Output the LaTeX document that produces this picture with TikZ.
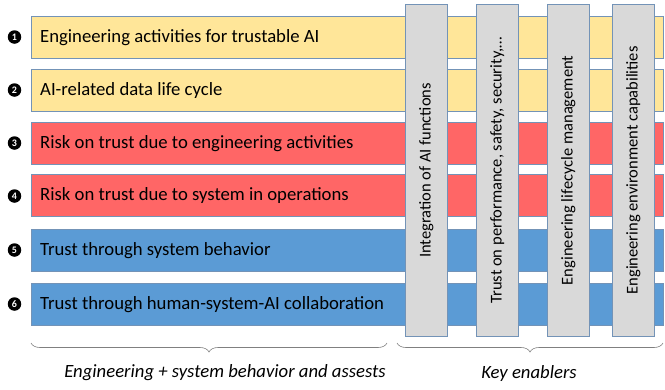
\documentclass[tikz,border=0pt]{standalone}
\usepackage{fontspec}
\setmainfont{Carlito}
\usetikzlibrary{decorations.pathreplacing}
\definecolor{barY}{HTML}{FFE699}
\definecolor{barR}{HTML}{FF6666}
\definecolor{barB}{HTML}{5B9BD5}
\definecolor{colG}{HTML}{D9D9D9}
\definecolor{edge}{HTML}{7393B7}
\definecolor{braceC}{HTML}{808080}
\tikzset{
  bar/.style={draw=edge, line width=0.8pt, anchor=north west, minimum width=632pt, minimum height=42pt, inner sep=0pt},
  bartext/.style={anchor=west, font=\fontsize{18.7}{22}\selectfont, inner sep=0pt},
  colbox/.style={draw=edge, line width=0.8pt, fill=colG, anchor=north west, minimum width=42pt, minimum height=332pt, inner sep=0pt},
  coltext/.style={rotate=90, font=\fontsize{16.5}{20}\selectfont, inner sep=0pt},
  num/.style={circle, fill=black, text=white, inner sep=0pt, minimum size=13.5pt, font=\fontsize{10}{10}\selectfont\bfseries},
  bracestyle/.style={draw=braceC, line width=0.6pt, decorate, decoration={brace, amplitude=9pt, mirror}},
  caption/.style={font=\fontsize{18.7}{22}\selectfont\itshape, inner sep=0pt}
}
\begin{document}
\begin{tikzpicture}[x=1pt, y=-1pt]
\useasboundingbox (0,0) rectangle (665,389);
% horizontal bars
\node[bar, fill=barY] (r1) at (31,16) {};
\node[bar, fill=barY] (r2) at (31,69) {};
\node[bar, fill=barR] (r3) at (31,122) {};
\node[bar, fill=barR] (r4) at (31,174) {};
\node[bar, fill=barB] (r5) at (31,229) {};
\node[bar, fill=barB] (r6) at (31,283) {};
\node[bartext] (t1) at ([xshift=9pt]r1.west) {Engineering activities for trustable AI};
\node[bartext] (t2) at ([xshift=9pt]r2.west) {AI-related data life cycle};
\node[bartext] (t3) at ([xshift=9pt]r3.west) {Risk on trust due to engineering activities};
\node[bartext] (t4) at ([xshift=9pt]r4.west) {Risk on trust due to system in operations};
\node[bartext] (t5) at ([xshift=9pt]r5.west) {Trust through system behavior};
\node[bartext] (t6) at ([xshift=9pt]r6.west) {Trust through human-system-AI collaboration};
% numbers
\node[num] (n1) at (14.5,37) {1};
\node[num] (n2) at (14.5,90) {2};
\node[num] (n3) at (14.5,143) {3};
\node[num] (n4) at (14.5,196) {4};
\node[num] (n5) at (14.5,250) {5};
\node[num] (n6) at (14.5,304) {6};
% columns
\node[colbox] (c1) at (405,4) {};
\node[colbox] (c2) at (476,4) {};
\node[colbox] (c3) at (547,4) {};
\node[colbox] (c4) at (612,4) {};
\node[coltext] (ct1) at (c1.center) {Integration of AI functions};
\node[coltext] (ct2) at (c2.center) {Trust on performance, safety, security,\dots};
\node[coltext] (ct3) at (c3.center) {Engineering lifecycle management};
\node[coltext] (ct4) at (c4.center) {Engineering environment capabilities};
% braces
\coordinate (b1a) at (31,343);
\coordinate (b1b) at (387,343);
\coordinate (b2a) at (397,343);
\coordinate (b2b) at (663,343);
\draw[bracestyle] (b1a) -- (b1b);
\draw[bracestyle] (b2a) -- (b2b);
\node[caption] (l1) at (225,373) {Engineering + system behavior and assests};
\node[caption] (l2) at (529,374) {Key enablers};
\end{tikzpicture}
\end{document}
